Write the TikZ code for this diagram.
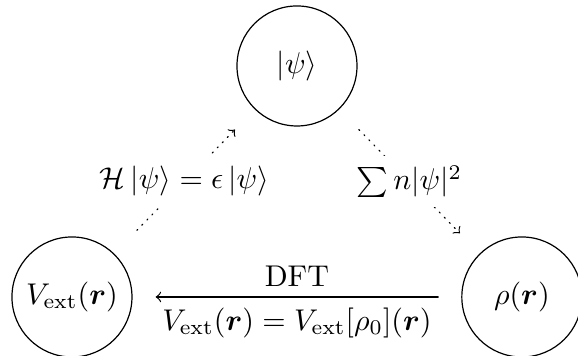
\documentclass[tikz,border=0pt]{standalone}
\usepackage{amsmath,amssymb,bm}
\usetikzlibrary{arrows.meta,positioning}

\begin{document}
\begin{tikzpicture}[>=to,line cap=round,line join=round,
  statecircle/.style={draw,circle,minimum size=1.406cm,inner sep=0pt}]
 \useasboundingbox (-0.843,-0.691) rectangle (5.928,3.479);
 \node[statecircle] (vext) at (0,0) {$V_{\text{ext}}(\bm r)$};
 \node[statecircle] (rho) at (5.27,0) {$\rho(\bm r)$};
 \node[statecircle] (psi) at (2.636,2.706) {$\left|\psi\right\rangle$};
 % dotted links through the wave function
 \draw[->,dotted,shorten <=0.38cm,shorten >=0.33cm] (vext) --
  node[fill=white] {$\mathcal{H}\left|\psi\right\rangle=\epsilon\left|\psi\right\rangle$} (psi);
 \draw[->,dotted,shorten <=0.33cm,shorten >=0.33cm] (psi) --
  node[fill=white] {$\sum n|\psi|^2$} (rho);
 \draw[->,shorten <=0.27cm,shorten >=0.27cm] (rho) --
  node[above] {DFT}
  node[below] {$V_{\text{ext}}(\bm r)=V_{\text{ext}}[\rho_0](\bm r)$} (vext);
\end{tikzpicture}
\end{document}
